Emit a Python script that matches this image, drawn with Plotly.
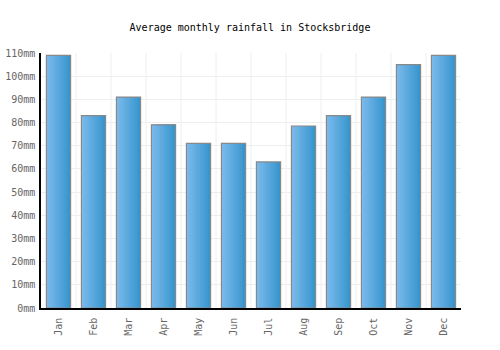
import plotly.graph_objects as go

months = ["Jan", "Feb", "Mar", "Apr", "May", "Jun", "Jul", "Aug", "Sep", "Oct", "Nov", "Dec"]
rainfall = [109, 83, 91, 79, 71, 71, 63, 78.5, 83, 91, 105, 109]
tick_vals = [0, 10, 20, 30, 40, 50, 60, 70, 80, 90, 100, 110]
tick_text = [f"{v}mm" for v in tick_vals]

fig = go.Figure()

# gradient fill approximated by overlaid slices, each covering to the right edge
n = 14
total_w = 0.69
slice_w = total_w / n
c0 = (122, 186, 236)
c1 = (56, 150, 206)
for i in range(n):
    t = i / (n - 1)
    col = tuple(round(c0[k] + (c1[k] - c0[k]) * t) for k in range(3))
    fig.add_trace(go.Bar(
        x=months, y=rainfall,
        width=total_w - i * slice_w, offset=-total_w / 2 + i * slice_w,
        marker=dict(color=f"rgb{col}", line=dict(width=0)),
        hoverinfo="skip", showlegend=False,
    ))
fig.add_trace(go.Bar(
    x=months, y=rainfall, width=total_w, offset=-total_w / 2,
    marker=dict(color="rgba(0,0,0,0)", line=dict(color="#888888", width=1.2)),
    showlegend=False,
))

fig.update_layout(
    width=500, height=350,
    margin=dict(l=41, r=39, t=53, b=42),
    barmode="overlay",
    plot_bgcolor="white", paper_bgcolor="white",
    font=dict(family="DejaVu Sans Mono", size=10, color="#666666"),
    title=dict(text="Average monthly rainfall in Stocksbridge", x=0.5, xanchor="center",
               y=1 - 27 / 350, yanchor="middle",
               font=dict(family="DejaVu Sans Mono", size=10, color="#000000")),
    xaxis=dict(
        tickangle=-90, showline=True, linecolor="#000000", linewidth=1.5,
        showgrid=False, ticks="outside", ticklen=4, tickcolor="rgba(0,0,0,0)",
        tickfont=dict(size=10, color="#666666"),
        range=[-0.5, 11.5], automargin=False,
    ),
    yaxis=dict(
        range=[0, 110], tickvals=tick_vals, ticktext=tick_text,
        showline=True, linecolor="#000000", linewidth=1.5,
        gridcolor="#eeeeee", gridwidth=1, ticks="outside", ticklen=2,
        tickcolor="rgba(0,0,0,0)", zeroline=False,
        tickfont=dict(size=10, color="#666666"), automargin=False,
    ),
)

# vertical grid lines at category boundaries
for k in range(1, 12):
    fig.add_shape(type="line", xref="x", yref="paper", x0=k - 0.5, x1=k - 0.5, y0=0, y1=1,
                  line=dict(color="#eeeeee", width=1), layer="below")

fig.write_html("out.html")
